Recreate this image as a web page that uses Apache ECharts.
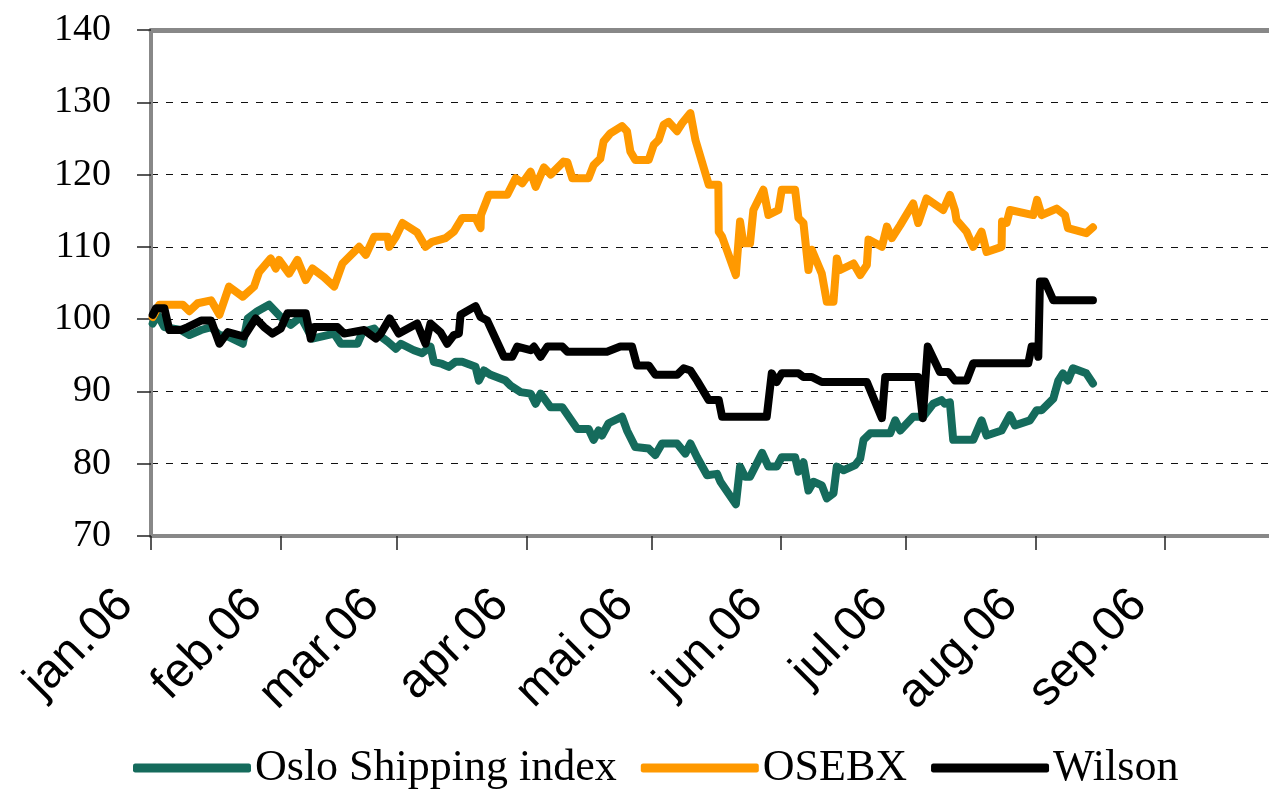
<!DOCTYPE html>
<html><head><meta charset="utf-8">
<script src="https://cdn.jsdelivr.net/npm/echarts@6/dist/echarts.min.js"></script>
<style>html,body{margin:0;padding:0;background:#fff}#c{width:1269px;height:789px}</style>
</head><body><div id="c"></div>
<script>
// x positions are days since 1 Jan 2006
const monthTickDays = [0, 31, 59, 90, 120, 151, 181, 212, 243];
const monthLabels = ['jan.06', 'feb.06', 'mar.06', 'apr.06', 'mai.06', 'jun.06', 'jul.06', 'aug.06', 'sep.06'];
const seriesNames = ['Oslo Shipping index', 'OSEBX', 'Wilson'];

const osloDays = [0.4,1.6,3.2,7.2,9.2,12.0,14.4,16.4,18.4,22.0,23.2,25.5,28.3,31.1,33.5,35.9,38.7,43.9,45.5,49.5,50.7,53.5,55.1,56.7,58.7,59.9,63.0,65.0,67.0,67.8,69.8,71.4,73.0,74.6,77.8,78.6,79.8,81.4,85.0,86.2,88.6,91.0,92.2,93.4,95.8,98.6,102.2,104.9,106.1,107.3,108.1,109.7,112.9,114.1,116.1,119.3,120.9,122.5,126.1,128.1,129.3,130.9,133.3,135.7,136.5,140.2,141.2,142.4,143.6,146.5,148.0,150.0,151.2,154.4,155.2,156.4,157.6,158.8,160.8,162.0,163.6,164.4,166.0,168.8,170.0,170.8,172.4,177.2,178.4,179.6,182.7,185.1,187.5,189.5,190.3,191.5,192.3,197.1,199.1,200.3,203.9,205.9,207.1,210.7,212.3,213.5,216.3,217.5,218.6,219.8,221.0,224.2,225.8];
const osloValues = [99.4,100.6,98.9,98.5,97.8,98.5,98.9,97.8,97.6,96.6,100.1,101.1,102.0,100.3,99.2,100.3,97.3,98.0,96.6,96.6,98.2,98.7,97.6,96.9,95.9,96.6,95.7,95.3,96.2,94.1,93.8,93.4,94.1,94.1,93.4,91.5,92.9,92.3,91.5,90.8,89.9,89.7,88.3,89.7,87.8,87.8,84.8,84.8,83.3,84.6,83.9,85.6,86.5,84.6,82.3,82.1,81.2,82.8,82.8,81.4,82.8,80.9,78.4,78.6,77.5,74.4,79.6,78.2,78.2,81.5,79.6,79.6,80.9,80.9,78.9,80.2,76.3,77.5,77.0,75.2,75.9,79.6,79.1,79.8,80.7,83.3,84.2,84.2,86.0,84.6,86.5,86.5,88.3,88.8,88.3,88.5,83.3,83.3,86.0,83.9,84.6,86.7,85.3,86.0,87.4,87.4,89.0,91.5,92.5,91.5,93.2,92.5,91.1];

const osebxDays = [0.4,2.0,7.6,9.2,11.2,14.4,16.4,18.7,22.0,24.7,25.9,28.7,29.9,30.7,33.1,35.1,37.1,38.7,41.5,43.9,45.9,49.9,51.5,53.5,56.7,57.1,58.7,60.3,63.8,65.8,67.4,70.6,72.6,74.6,77.8,79.0,79.1,81.0,85.4,87.4,89.0,91.0,92.2,94.2,95.8,98.9,99.8,101.0,104.9,106.1,107.7,108.5,110.1,112.9,114.1,114.9,116.1,119.3,120.5,121.7,122.9,124.1,126.1,127.3,129.3,130.5,133.7,136.0,136.1,136.9,140.2,141.2,142.0,143.6,144.4,146.8,148.0,150.4,151.2,154.4,155.2,156.4,157.6,158.4,160.8,162.0,163.6,164.4,165.2,168.4,170.0,171.6,172.0,175.2,176.4,177.6,179.6,182.7,183.9,185.9,189.9,191.5,192.7,193.1,195.5,197.1,199.1,200.3,203.9,204.0,205.1,205.9,211.5,212.4,213.5,217.1,219.1,219.8,224.2,225.8];
const osebxValues = [100.3,102.0,102.0,101.1,102.2,102.6,100.6,104.5,103.1,104.5,106.5,108.4,107.0,108.2,106.3,108.2,105.4,107.0,105.8,104.5,107.7,110.0,108.9,111.4,111.4,110.0,111.4,113.3,112.0,110.0,110.7,111.2,112.1,114.0,114.0,112.6,114.4,117.2,117.2,119.5,118.8,120.4,118.3,121.0,120.0,121.8,121.7,119.5,119.5,121.3,122.2,124.6,125.7,126.7,126.0,123.2,122.0,122.0,124.1,124.8,126.9,127.3,126.0,127.1,128.5,124.8,118.6,118.6,112.1,111.4,106.1,113.5,110.5,110.5,115.1,117.9,114.4,115.1,117.9,117.9,114.0,113.3,106.8,109.6,106.3,102.4,102.4,108.4,106.8,107.7,106.1,107.5,111.0,110.0,112.8,111.2,113.0,116.0,113.3,116.7,115.1,117.2,115.1,113.7,112.1,110.0,112.1,109.3,110.0,113.5,113.3,115.1,114.4,116.5,114.4,115.3,114.4,112.6,111.9,112.7];

const wilsonDays = [0.4,1.2,3.2,4.4,7.2,8.8,12.0,14.4,16.4,18.4,22.3,25.1,27.1,29.1,31.1,32.7,37.1,38.3,39.1,44.7,46.3,51.1,53.9,55.1,57.2,59.4,63.8,65.8,67.0,69.4,71.0,72.6,73.8,74.2,77.8,79.0,80.6,84.6,86.6,87.8,91.0,91.8,93.4,95.0,98.6,99.8,109.3,112.5,115.3,116.5,119.3,120.9,126.1,127.7,129.3,130.9,133.7,136.1,136.9,147.6,148.8,150.0,151.2,155.2,156.4,158.4,160.8,171.6,175.2,176.0,183.9,185.0,186.2,189.1,191.1,192.7,195.5,197.1,210.3,211.1,212.3,212.7,213.1,214.3,216.3,225.8];
const wilsonValues = [100.6,101.5,101.5,98.5,98.5,98.9,99.8,99.8,96.6,98.2,97.6,100.1,98.9,98.0,98.7,100.8,100.8,97.3,98.9,98.9,98.0,98.5,97.3,98.0,100.1,98.0,99.4,96.6,99.4,98.2,96.6,97.8,98.0,100.6,101.8,100.3,99.8,94.8,94.8,96.2,95.7,96.2,94.8,96.2,96.2,95.5,95.5,96.2,96.2,93.6,93.6,92.3,92.3,93.2,92.9,91.5,88.8,88.8,86.5,86.5,92.5,91.3,92.5,92.5,92.0,92.0,91.3,91.3,86.3,92.0,92.0,86.3,96.2,92.7,92.7,91.5,91.5,93.9,93.9,96.2,96.2,94.8,105.2,105.2,102.6,102.6];

const yTicks = [70, 80, 90, 100, 110, 120, 130, 140];
const colors = ['#156B5C', '#FF9900', '#000000'];

function pairs(xs, ys) { return xs.map((x, i) => [x, ys[i]]); }

const chart = echarts.init(document.getElementById('c'), null, { renderer: 'canvas' });
const lineSeries = [
  pairs(osloDays, osloValues),
  pairs(osebxDays, osebxValues),
  pairs(wilsonDays, wilsonValues)
].map((d, i) => ({
  name: seriesNames[i],
  type: 'line',
  data: d,
  showSymbol: false,
  symbol: 'none',
  animation: false,
  lineStyle: { color: colors[i], width: 8, join: 'round', cap: 'round' },
  itemStyle: { color: colors[i] },
  z: 2 + i
}));

chart.setOption({
  animation: false,
  backgroundColor: '#ffffff',
  grid: { left: 151, right: 0, top: 30, bottom: 253, containLabel: false },
  legend: {
    top: 741,
    left: 128,
    data: seriesNames.map((n, i) => ({ name: n, icon: 'roundRect', itemStyle: { color: colors[i] } })),
    itemWidth: 118,
    itemHeight: 9,
    itemGap: 24,
    textStyle: { fontFamily: 'Liberation Serif', fontSize: 44, color: '#000', padding: [0, 0, 0, -1] }
  },
  xAxis: [{
    type: 'value',
    min: 0,
    max: 268,
    axisLine: { show: true, lineStyle: { color: '#888', width: 4 } },
    axisTick: { show: true, customValues: monthTickDays, length: 14, lineStyle: { color: '#222', width: 1.5 } },
    axisLabel: {
      customValues: monthTickDays,
      formatter: v => { const k = monthTickDays.indexOf(Math.round(v)); return k >= 0 ? monthLabels[k] : ''; },
      rotate: 45,
      margin: 36,
      padding: [0, 36, 44, 0],
      fontFamily: 'Liberation Sans',
      fontSize: 48,
      color: '#000'
    },
    splitLine: { show: false }
  }, {
    type: 'value',
    position: 'top',
    min: 0,
    max: 268,
    axisLine: { show: true, lineStyle: { color: '#888', width: 5 } },
    axisTick: { show: false },
    axisLabel: { show: false },
    splitLine: { show: false }
  }],
  yAxis: {
    type: 'value',
    min: yTicks[0],
    max: yTicks[yTicks.length - 1],
    interval: 10,
    axisLine: { show: true, lineStyle: { color: '#888', width: 4 } },
    axisTick: { show: true, length: 14, lineStyle: { color: '#222', width: 1.5 } },
    axisLabel: { margin: 40, fontFamily: 'Liberation Serif', fontSize: 38, color: '#000' },
    splitLine: { show: true, lineStyle: { color: '#111', width: 1, type: [7, 8] } }
  },
  series: lineSeries
});
</script>
</body></html>
